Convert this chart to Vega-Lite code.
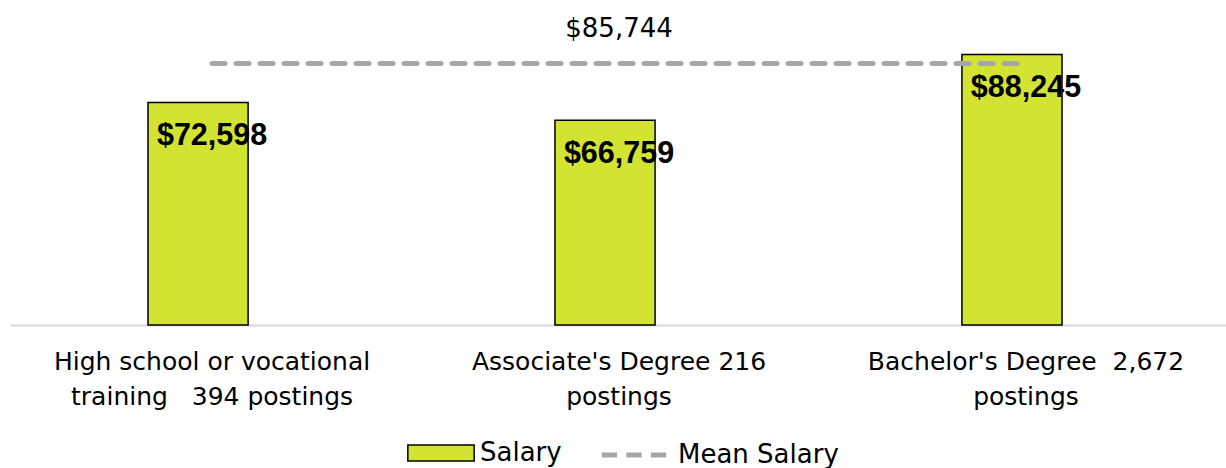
{
  "$schema": "https://vega.github.io/schema/vega-lite/v6.json",
  "width": 1216,
  "height": 325,
  "autosize": {"type": "none"},
  "padding": {"left": 10, "top": 0, "right": 0, "bottom": 143},
  "background": "white",
  "config": {"view": {"stroke": null}},
  "data": {
    "values": [
      {"cat": "High school or vocational|training\u00a0\u00a0\u00a0394 postings", "Salary": 72598, "Mean": 85744},
      {"cat": "Associate's Degree 216|postings", "Salary": 66759, "Mean": 85744},
      {"cat": "Bachelor's Degree\u00a0\u00a02,672|postings", "Salary": 88245, "Mean": 85744}
    ]
  },
  "encoding": {
    "x": {
      "field": "cat",
      "type": "nominal",
      "sort": null,
      "scale": {"paddingInner": 0.754, "paddingOuter": 0.371, "align": 0.457},
      "axis": {
        "title": null,
        "labelAngle": 0,
        "ticks": false,
        "domainColor": "#d9d9d9",
        "domainWidth": 2,
        "labelFont": "DejaVu Sans",
        "labelFontSize": 25,
        "labelColor": "#000000",
        "labelExpr": "split(datum.value, '|')",
        "labelLineHeight": 35,
        "labelOffset": 14,
        "labelPadding": 24,
        "labelLimit": 500,
        "labelOverlap": false,
        "labelBound": false,
        "labelFlush": false
      }
    }
  },
  "layer": [
    {
      "mark": {"type": "bar", "stroke": "#000000", "strokeWidth": 1.5},
      "encoding": {
        "y": {"field": "Salary", "type": "quantitative", "scale": {"domain": [0, 106000], "nice": false}, "axis": null},
        "fill": {
          "datum": "Salary",
          "scale": {"domain": ["Salary"], "range": ["#d2e331"]},
          "legend": {
            "title": null,
            "orient": "none",
            "direction": "horizontal",
            "legendX": 397,
            "legendY": 419,
            "padding": 0,
            "symbolSize": 4400,
            "symbolType": "M-1,-0.24H1V0.24H-1Z",
            "symbolStrokeColor": "#000000",
            "symbolStrokeWidth": 1.5,
            "symbolOpacity": 1,
            "labelFont": "DejaVu Sans",
            "labelFontSize": 26,
            "labelColor": "#000000",
            "labelOffset": 5,
            "labelLimit": 400
          }
        }
      }
    },
    {
      "mark": {"type": "text", "font": "Liberation Sans", "fontWeight": "bold", "fontSize": 30.5, "color": "#000000", "dx": 14, "dy": 43, "baseline": "alphabetic", "align": "center"},
      "encoding": {
        "y": {"field": "Salary", "type": "quantitative"},
        "text": {"field": "Salary", "type": "quantitative", "format": "$,.0f"}
      }
    },
    {
      "mark": {"type": "line", "strokeWidth": 5, "strokeDash": [13, 11], "strokeCap": "round", "xOffset": 14, "yOffset": 1.5},
      "encoding": {
        "y": {"field": "Mean", "type": "quantitative"},
        "stroke": {
          "datum": "Mean Salary",
          "scale": {"domain": ["Mean Salary"], "range": ["#a6a6a6"]},
          "legend": {
            "title": null,
            "orient": "none",
            "direction": "horizontal",
            "legendX": 588,
            "legendY": 419,
            "padding": 0,
            "symbolSize": 4400,
            "symbolType": "M-0.97,0H-0.51M-0.23,0H0.23M0.51,0H0.97",
            "symbolStrokeWidth": 5,
            "symbolDash": [],
            "symbolOpacity": 1,
            "labelFont": "DejaVu Sans",
            "labelFontSize": 26,
            "labelColor": "#000000",
            "labelOffset": 8,
            "labelLimit": 400
          }
        }
      }
    },
    {
      "transform": [{"filter": "datum.cat === 'Associate\\'s Degree 216|postings'"}],
      "mark": {"type": "text", "font": "DejaVu Sans", "fontSize": 26, "color": "#000000", "dx": 14, "dy": -25, "baseline": "alphabetic", "align": "center"},
      "encoding": {
        "y": {"field": "Mean", "type": "quantitative"},
        "text": {"field": "Mean", "type": "quantitative", "format": "$,.0f"}
      }
    }
  ]
}
